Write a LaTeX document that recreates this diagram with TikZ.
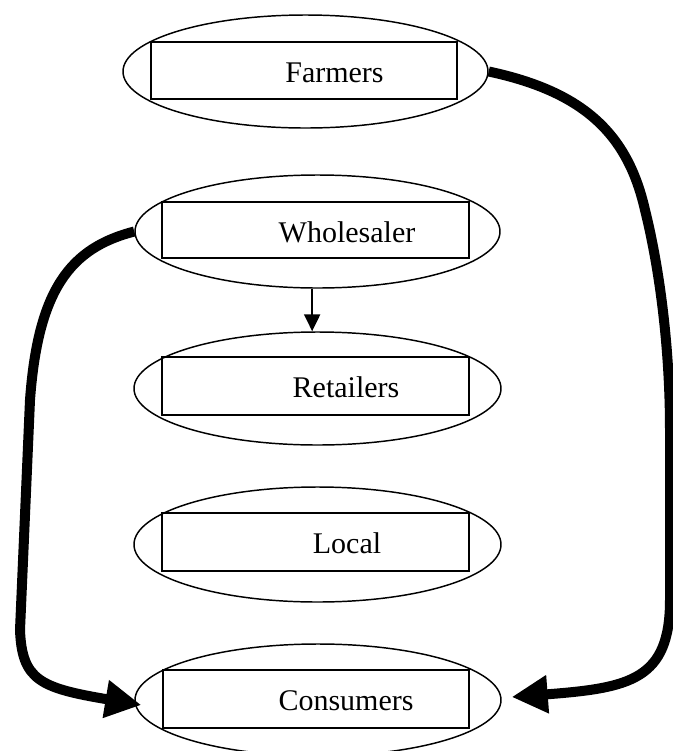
\documentclass[tikz,border=0pt]{standalone}
\usepackage{fontspec}
\setmainfont{Liberation Serif}
\usetikzlibrary{shapes.geometric,arrows.meta}
\begin{document}
\begin{tikzpicture}[x=0.75pt,y=-0.75pt,
  oval/.style={draw,ellipse,line width=1.1pt,inner sep=0pt},
  box/.style={draw,rectangle,line width=1.4pt,inner sep=0pt},
  lbl/.style={anchor=base,inner sep=0pt,font=\fontsize{22.5}{27}\selectfont},
  flow/.style={line width=7.5pt,-{Triangle[length=27pt,width=27pt]}},
  thin/.style={line width=1.6pt,-{Triangle[length=12.75pt,width=12pt]}}]
\useasboundingbox (0,0) rectangle (673,751);
% ellipses
\node[oval,minimum width=273.75pt,minimum height=84.75pt] (fE) at (305.5,71.5) {};
\node[oval,minimum width=273.75pt,minimum height=84.75pt] (wE) at (317.5,231.5) {};
\node[oval,minimum width=275.25pt,minimum height=84.75pt] (rE) at (317.5,388.5) {};
\node[oval,minimum width=275.25pt,minimum height=86.25pt] (lE) at (317.5,544.5) {};
\node[oval,minimum width=274.5pt,minimum height=84pt] (cE) at (318,700) {};
% rectangles
\node[box,minimum width=229.5pt,minimum height=42.75pt] (fR) at (304,70.5) {};
\node[box,minimum width=230.25pt,minimum height=42pt] (wR) at (315.5,230) {};
\node[box,minimum width=230.25pt,minimum height=43.5pt] (rR) at (315.5,386) {};
\node[box,minimum width=230.25pt,minimum height=43.5pt] (lR) at (315.5,542) {};
\node[box,minimum width=229.5pt,minimum height=43.5pt] (cR) at (316,699) {};
% labels
\node[lbl] (fT) at (334.5,82) {Farmers};
\node[lbl] (wT) at (347,242) {Wholesaler};
\node[lbl] (rT) at (346,397) {Retailers};
\node[lbl] (lT) at (347,553) {Local};
\node[lbl] (cT) at (346,710) {Consumers};
% connectors
\draw[thin] ([xshift=-4pt]wE.south) -- ([xshift=-4pt]rE.north);
\draw[flow] (wE.west) .. controls (70,248) and (38,290) .. (30,400)
  -- (20,630) .. controls (22,680) and (40,688) .. ([xshift=5.25pt,yshift=-3.75pt]cE.west);
\draw[flow] (fE.east) .. controls (585,92) and (628,135) .. (645,210)
  .. controls (660,270) and (670,350) .. (670,430)
  -- (670,600) .. controls (670,680) and (630,688) .. ([xshift=7.5pt,yshift=2.25pt]cE.east);
\end{tikzpicture}
\end{document}
